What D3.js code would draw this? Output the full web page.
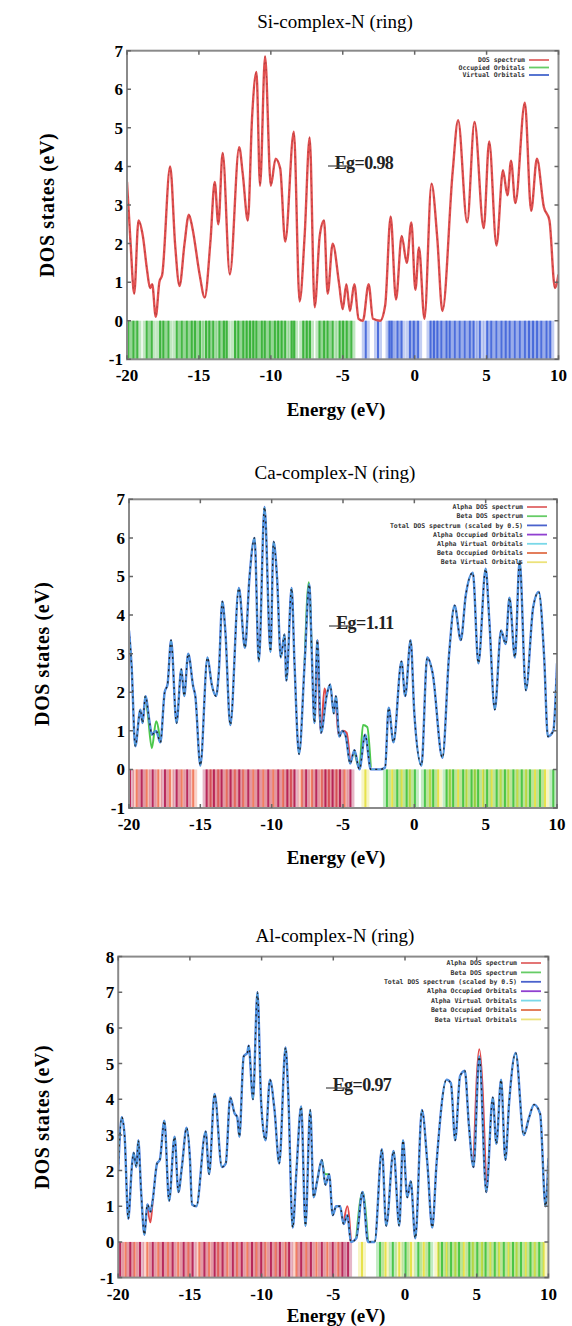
<!DOCTYPE html>
<html>
<head>
<meta charset="utf-8">
<script src="https://cdn.jsdelivr.net/npm/d3@7/dist/d3.min.js"></script>
<style>
  body { margin: 0; background: #fff; }
</style>
</head>
<body>
<div id="graph"></div>
<script>
// ---- data ----
const xTicks = [-20, -15, -10, -5, 0, 5, 10];

// Si complex: one DOS curve + occupied / virtual sticks
const siDos = [[-20,3.6],[-19.75,2.0],[-19.5,0.7],[-19.2,2.6],[-18.9,2.2],[-18.6,1.3],[-18.4,0.85],[-18.25,0.95],[-18.0,0.1],[-17.75,1.0],[-17.55,1.2],[-17.0,4.0],[-16.65,1.95],[-16.35,0.9],[-16.0,2.0],[-15.7,2.75],[-15.45,2.4],[-14.95,1.2],[-14.6,0.6],[-14.2,2.05],[-13.9,3.6],[-13.65,2.5],[-13.35,4.35],[-12.85,1.2],[-12.2,4.5],[-11.95,3.8],[-11.6,2.6],[-11.3,5.3],[-11.0,6.45],[-10.75,3.5],[-10.4,6.85],[-10.0,3.5],[-9.67,4.2],[-9.35,3.95],[-9.0,2.05],[-8.4,4.9],[-8.0,0.5],[-7.65,2.2],[-7.3,4.75],[-6.95,0.35],[-6.6,2.2],[-6.3,2.6],[-6.05,0.7],[-5.7,2.0],[-5.25,0.95],[-5.0,0.3],[-4.75,0.95],[-4.5,0.25],[-4.2,0.95],[-3.9,0.05],[-3.6,0.0],[-3.2,0.95],[-2.9,0.05],[-2.4,0.0],[-2.05,0.4],[-1.67,2.7],[-1.3,0.55],[-0.9,2.2],[-0.55,1.5],[-0.23,2.55],[0.05,0.8],[0.3,1.9],[0.68,0.05],[1.17,3.55],[1.57,2.15],[1.93,0.25],[2.64,3.85],[3.02,5.2],[3.65,2.55],[4.16,5.15],[4.8,2.4],[5.18,4.65],[5.69,1.95],[6.14,3.9],[6.45,3.25],[6.7,4.15],[7.0,3.05],[7.66,5.65],[8.1,2.85],[8.5,4.2],[8.98,2.95],[9.37,2.6],[9.75,0.85],[10,1.2]];
const siOccupied = [-19.91,-19.56,-19.28,-18.63,-18.28,-17.7,-17.47,-17.12,-16.54,-16.19,-15.84,-15.5,-15.27,-14.92,-14.51,-14.28,-14.0,-13.58,-13.26,-13.07,-12.49,-12.26,-11.92,-11.68,-11.45,-11.22,-11.0,-10.63,-10.42,-10.07,-9.72,-9.49,-9.25,-9.0,-8.55,-8.38,-7.75,-7.5,-7.28,-6.62,-6.3,-6.05,-5.7,-5.22,-4.98,-4.72,-4.4];
const siVirtual = [-3.4,-2.55,-1.75,-1.6,-1.2,-0.91,-0.33,-0.06,0.24,1.1,1.34,1.58,1.86,2.21,2.44,2.79,3.13,3.48,3.83,4.1,4.53,5.04,5.33,5.68,6.03,6.33,6.61,6.96,7.31,7.66,7.95,8.23,8.51,8.81,9.16,9.43];

// Ca complex
const caTotal = [[-20,3.6],[-19.82,2.7],[-19.56,0.6],[-19.2,1.55],[-19.05,1.2],[-18.85,1.9],[-18.55,1.2],[-18.4,0.9],[-18.1,1.0],[-17.8,0.7],[-17.5,2.0],[-17.3,2.2],[-17.05,3.35],[-16.67,1.2],[-16.33,2.6],[-16.13,1.9],[-15.85,3.0],[-15.5,2.15],[-15.35,1.9],[-15.0,0.1],[-14.5,2.9],[-14.2,2.2],[-13.9,1.9],[-13.7,2.55],[-13.46,4.35],[-13.25,3.6],[-12.9,1.15],[-12.3,4.7],[-11.87,3.15],[-11.56,4.95],[-11.2,6.0],[-10.9,2.8],[-10.5,6.8],[-10.08,3.05],[-9.87,5.9],[-9.62,4.95],[-9.36,2.9],[-9.1,3.5],[-8.97,2.3],[-8.6,4.7],[-8.4,2.75],[-8.08,0.4],[-7.69,2.75],[-7.36,4.8],[-7.2,3.15],[-7.0,1.2],[-6.8,3.35],[-6.54,0.95],[-6.15,1.9],[-5.9,2.2],[-5.65,1.45],[-5.5,1.9],[-5.26,0.85],[-5.05,1.0],[-4.8,0.85],[-4.5,0.15],[-4.2,0.5],[-3.85,0.0],[-3.45,0.9],[-3.05,0.0],[-2.4,0.0],[-2.05,0.05],[-1.8,1.6],[-1.46,0.7],[-0.9,2.8],[-0.64,1.9],[-0.26,3.35],[0.0,1.45],[0.5,0.1],[0.9,2.9],[1.28,2.5],[1.97,0.3],[2.44,3.0],[2.82,4.25],[3.26,3.35],[3.6,4.5],[4.1,5.1],[4.49,2.75],[5.0,5.2],[5.25,3.9],[5.64,1.55],[6.08,3.6],[6.4,3.25],[6.67,4.45],[7.05,2.9],[7.38,5.4],[7.82,2.05],[8.33,4.2],[8.72,4.6],[9.1,2.9],[9.36,0.85],[9.74,1.0],[10,2.75]];
const caAlphaDos = [[[-6.8,3.35],[-6.54,0.95],[-6.3,2.1],[-6.15,1.9]],[[-5.5,1.9],[-5.3,0.9],[-5.0,1.0],[-4.75,0.95],[-4.5,0.15]]];
const caBetaDos = [[[-18.85,1.9],[-18.7,1.5],[-18.4,0.55],[-18.1,1.25],[-17.8,0.7]],[[-4.2,0.5],[-3.85,0.05],[-3.6,1.15],[-3.3,1.1],[-3.05,0.05]],[[-7.69,2.75],[-7.4,4.85],[-7.2,3.15]]];
const caAlphaOcc = [-19.93,-19.11,-18.34,-17.48,-16.66,-15.92,-14.56,-14.05,-13.51,-12.88,-12.27,-11.64,-10.94,-10.24,-9.54,-8.9,-8.4,-7.58,-6.87,-6.23,-5.73,-5.21,-4.48];
const caBetaOcc = [-19.46,-18.76,-17.95,-17.13,-16.31,-15.5,-14.28,-13.74,-13.16,-12.58,-11.99,-11.29,-10.59,-9.89,-9.2,-8.65,-7.89,-7.18,-6.49,-5.99,-5.46,-4.89];
const caAlphaVirt = [-1.92,-1.2,-0.54,0.04,0.74,1.32,2.26,2.72,3.42,4.01,4.47,5.1,5.77,6.35,6.94,7.53,8.11,8.81,9.74];
const caBetaVirt = [-3.43,-1.55,-0.89,-0.31,1.09,1.67,2.49,3.07,3.66,4.24,4.82,5.42,6.05,6.59,7.22,7.83,8.46,9.16];

// Al complex
const alTotal = [[-20,2.0],[-19.75,3.5],[-19.55,2.95],[-19.3,0.65],[-19.05,2.1],[-18.93,2.5],[-18.73,2.1],[-18.6,2.85],[-18.4,1.4],[-18.17,0.2],[-17.97,1.05],[-17.75,0.85],[-17.6,1.15],[-17.29,2.2],[-17.1,2.3],[-16.78,3.4],[-16.45,1.15],[-16.07,2.95],[-15.8,1.4],[-15.56,2.1],[-15.23,3.2],[-15.0,2.35],[-14.85,1.05],[-14.55,1.0],[-13.9,3.1],[-13.66,1.9],[-13.28,4.15],[-12.77,2.1],[-12.5,2.2],[-12.19,4.05],[-11.88,3.6],[-11.7,3.5],[-11.55,2.95],[-11.25,5.2],[-11.0,5.3],[-10.9,5.5],[-10.6,4.0],[-10.29,7.0],[-10.03,3.9],[-9.73,2.85],[-9.42,4.55],[-9.1,3.7],[-8.77,2.2],[-8.33,5.45],[-8.15,4.25],[-7.83,0.4],[-7.57,2.0],[-7.24,3.8],[-6.94,0.45],[-6.61,3.7],[-6.37,1.25],[-6.13,1.7],[-5.8,2.3],[-5.55,1.6],[-5.29,1.9],[-5.04,0.75],[-4.8,1.0],[-4.53,1.0],[-4.28,0.5],[-4.02,0.75],[-3.77,0.0],[-3.4,0.1],[-2.96,1.4],[-2.58,0.0],[-2.12,0.0],[-1.61,2.6],[-1.31,0.45],[-0.8,2.55],[-0.4,0.45],[-0.14,2.85],[0.16,1.25],[0.4,1.7],[0.72,0.1],[1.18,3.7],[1.56,2.2],[1.9,0.4],[2.2,2.2],[2.9,4.55],[3.2,4.45],[3.5,2.85],[3.84,4.65],[4.17,4.8],[4.45,3.3],[4.78,2.1],[5.18,5.2],[5.67,1.4],[6.12,4.05],[6.37,2.75],[6.7,4.55],[7.0,2.3],[7.26,3.9],[7.72,5.3],[8.28,3.0],[8.66,3.5],[9.0,3.85],[9.42,3.6],[9.8,1.0],[10,2.35]];
const alAlphaDos = [[[-4.28,0.5],[-4.02,1.0],[-3.77,0.0]],[[4.78,2.1],[5.18,5.4],[5.67,1.4]],[[-17.97,1.05],[-17.75,0.55],[-17.6,1.15]]];
const alBetaDos = [[[-5.8,2.3],[-5.55,1.9],[-5.29,1.9]],[[-3.4,0.1],[-2.96,1.4],[-2.58,0.0]]];
const alAlphaOcc = [-19.87,-19.16,-18.48,-17.59,-16.88,-16.2,-15.44,-14.81,-13.99,-13.28,-12.72,-12.01,-11.38,-10.67,-10.03,-9.35,-8.72,-8.08,-7.24,-6.56,-5.8,-5.04,-4.36,-3.97];
const alBetaOcc = [-19.49,-18.86,-17.97,-17.21,-16.53,-15.82,-15.11,-14.34,-13.66,-13.03,-12.39,-11.71,-11.0,-10.36,-9.73,-9.02,-8.34,-7.57,-6.89,-6.18,-5.42,-4.66];
const alAlphaVirt = [-1.74,-0.85,0.04,0.93,1.69,2.58,3.21,3.77,4.48,5.04,5.62,6.26,6.89,7.53,8.09,8.75,9.36];
const alBetaVirt = [-3.0,-1.36,-0.4,0.42,1.31,2.32,2.9,3.51,4.1,4.73,5.37,5.95,6.56,7.22,7.78,8.42,9.05,9.67];

const legendSi = ["DOS spectrum", "Occupied Orbitals", "Virtual Orbitals"];
const legendSiColors = ["#e06666", "#66cc66", "#4466cc"];
const legendAB = ["Alpha DOS spectrum", "Beta DOS spectrum", "Total DOS spectrum (scaled by 0.5)",
                  "Alpha Occupied Orbitals", "Alpha Virtual Orbitals", "Beta Occupied Orbitals", "Beta Virtual Orbitals"];
const legendABColors = ["#e06666", "#66cc66", "#4a62cc", "#9040d0", "#7ad8e8", "#e0704a", "#ece27a"];

// ---- layout ----
const W = 572, H = 1326;
const SERIF = '"Liberation Serif", "Times New Roman", serif';
const svg = d3.select("#graph").append("svg")
              .attr("width", W).attr("height", H)
              .style("background", "#fff");

const panels = [
  { title: "Si-complex-N (ring)", eg: "Eg=0.98", yMax: 7,
    left: 127, right: 558.5, top: 50.7, bottom: 359.3,
    titleY: 22, yLabelX: 47, xLabelY: 410, egX: 364, egY: 163,
    legend: legendSi, legendColors: legendSiColors, legendY: 60, legendStep: 7.5, legendRight: 525,
    single: true },
  { title: "Ca-complex-N (ring)", eg: "Eg=1.11", yMax: 7,
    left: 129, right: 557, top: 499.3, bottom: 808,
    titleY: 473, yLabelX: 42, xLabelY: 858, egX: 365, egY: 623,
    legend: legendAB, legendColors: legendABColors, legendY: 507, legendStep: 9.2, legendRight: 523,
    total: caTotal, alpha: caAlphaDos, beta: caBetaDos,
    aOcc: caAlphaOcc, bOcc: caBetaOcc, aVirt: caAlphaVirt, bVirt: caBetaVirt },
  { title: "Al-complex-N (ring)", eg: "Eg=0.97", yMax: 8,
    left: 118.2, right: 548.4, top: 956.6, bottom: 1277.6,
    titleY: 936, yLabelX: 42, xLabelY: 1316, egX: 362, egY: 1085,
    legend: legendAB, legendColors: legendABColors, legendY: 963, legendStep: 9.4, legendRight: 517,
    total: alTotal, alpha: alAlphaDos, beta: alBetaDos,
    aOcc: alAlphaOcc, bOcc: alBetaOcc, aVirt: alAlphaVirt, bVirt: alBetaVirt }
];

panels.forEach((p, i) => drawPanel(p, i));

function label(g, txt, size, bold) {
  return g.append("text").text(txt)
          .style("font-family", SERIF)
          .style("font-size", size + "px")
          .style("font-weight", bold ? "bold" : "normal");
}

function drawPanel(p, i) {
  const x = d3.scaleLinear().domain([-20, 10]).range([p.left, p.right]);
  const y = d3.scaleLinear().domain([-1, p.yMax]).range([p.bottom, p.top]);
  const g = svg.append("g");

  g.append("clipPath").attr("id", "clip" + i)
   .append("rect")
   .attr("x", p.left).attr("y", p.top)
   .attr("width", p.right - p.left).attr("height", p.bottom - p.top);

  const plot = g.append("g").attr("clip-path", "url(#clip" + i + ")");

  // sticks between 0 and -1 (a soft wide halo, then the line itself)
  function sticks(list, color, op) {
    plot.selectAll(null).data(list).enter().append("line")
        .attr("x1", d => x(d)).attr("x2", d => x(d))
        .attr("y1", y(0)).attr("y2", y(-1))
        .attr("stroke", color).attr("stroke-width", 8).attr("opacity", 0.3);
    plot.selectAll(null).data(list).enter().append("line")
        .attr("x1", d => x(d)).attr("x2", d => x(d))
        .attr("y1", y(0)).attr("y2", y(-1))
        .attr("stroke", color).attr("stroke-width", 2).attr("opacity", op);
  }

  const line = d3.line().x(d => x(d[0])).y(d => y(d[1])).curve(d3.curveMonotoneX);

  if (p.single) {
    sticks(siOccupied, "#2fae2f", 0.85);
    sticks(siVirtual, "#3a5fd8", 0.85);
    plot.append("path").attr("d", line(siDos))
        .attr("fill", "none").attr("stroke", "#e05050").attr("stroke-width", 2.4);
    plot.append("path").attr("d", line(siDos))
        .attr("fill", "none").attr("stroke", "#8a2a2a").attr("stroke-width", 0.8)
        .attr("stroke-dasharray", "2,5").attr("opacity", 0.6);
  } else {
    sticks(p.bOcc, "#f07050", 0.85);
    sticks(p.aOcc, "#b0124a", 0.85);
    sticks(p.bVirt, "#e6e040", 0.9);
    sticks(p.aVirt, "#38c038", 0.85);
    p.beta.forEach(seg => plot.append("path").attr("d", line(seg))
        .attr("fill", "none").attr("stroke", "#4cc84c").attr("stroke-width", 2));
    p.alpha.forEach(seg => plot.append("path").attr("d", line(seg))
        .attr("fill", "none").attr("stroke", "#e04848").attr("stroke-width", 2));
    plot.append("path").attr("d", line(p.total))
        .attr("fill", "none").attr("stroke", "#4f7fe0").attr("stroke-width", 2.4);
    plot.append("path").attr("d", line(p.total))
        .attr("fill", "none").attr("stroke", "#55c8d8").attr("stroke-width", 0.8).attr("opacity", 0.7);
    plot.append("path").attr("d", line(p.total))
        .attr("fill", "none").attr("stroke", "#222").attr("stroke-width", 1.3)
        .attr("stroke-dasharray", "2,4");
  }

  // frame and inner ticks (gnuplot style)
  g.append("rect")
   .attr("x", p.left).attr("y", p.top)
   .attr("width", p.right - p.left).attr("height", p.bottom - p.top)
   .attr("fill", "none").attr("stroke", "#8a8a8a").attr("stroke-width", 2);

  const yTicks = d3.range(-1, p.yMax + 1);
  g.selectAll(null).data(xTicks).enter().append("path")
   .attr("d", d => `M${x(d)},${p.bottom}v-4M${x(d)},${p.top}v4`)
   .attr("stroke", "#666").attr("stroke-width", 1.5);
  g.selectAll(null).data(yTicks).enter().append("path")
   .attr("d", d => `M${p.left},${y(d)}h4M${p.right},${y(d)}h-4`)
   .attr("stroke", "#666").attr("stroke-width", 1.5);

  // tick labels
  yTicks.forEach(d => label(g, d, 17, true)
      .attr("x", p.left - 4).attr("y", y(d) + 6).attr("text-anchor", "end"));
  xTicks.forEach(d => label(g, d, 17, true)
      .attr("x", x(d)).attr("y", p.bottom + 22).attr("text-anchor", "middle"));

  // titles
  label(g, p.title, 19, false).attr("x", 335).attr("y", p.titleY + 6).attr("text-anchor", "middle");
  label(g, "Energy (eV)", 19, true).attr("x", 336).attr("y", p.xLabelY + 6).attr("text-anchor", "middle");
  const cy = (p.top + p.bottom) / 2;
  label(g, "DOS states (eV)", 20, true)
   .attr("transform", `translate(${p.yLabelX + 7},${cy}) rotate(-90)`)
   .attr("text-anchor", "middle").style("letter-spacing", "0.6px");

  // band gap note
  label(g, p.eg, 18, true)
   .attr("x", p.egX).attr("y", p.egY + 6).attr("text-anchor", "middle")
   .style("letter-spacing", "-0.6px").attr("fill", "#222");
  g.append("line")
   .attr("x1", p.egX - 36).attr("x2", p.egX - 12)
   .attr("y1", p.egY + 3).attr("y2", p.egY + 3)
   .attr("stroke", "#444").attr("stroke-width", 1.2);

  // legend
  p.legend.forEach((name, k) => {
    const ly = p.legendY + k * p.legendStep;
    g.append("text").attr("x", p.legendRight).attr("y", ly + 2.2)
     .attr("text-anchor", "end").text(name)
     .style("font-family", "DejaVu Sans Mono").style("font-size", "6.5px")
     .style("font-weight", "bold").attr("fill", "#333");
    g.append("line").attr("x1", p.legendRight + 4).attr("x2", p.legendRight + 24)
     .attr("y1", ly).attr("y2", ly)
     .attr("stroke", p.legendColors[k]).attr("stroke-width", 1.8);
  });
}
</script>
</body>
</html>
